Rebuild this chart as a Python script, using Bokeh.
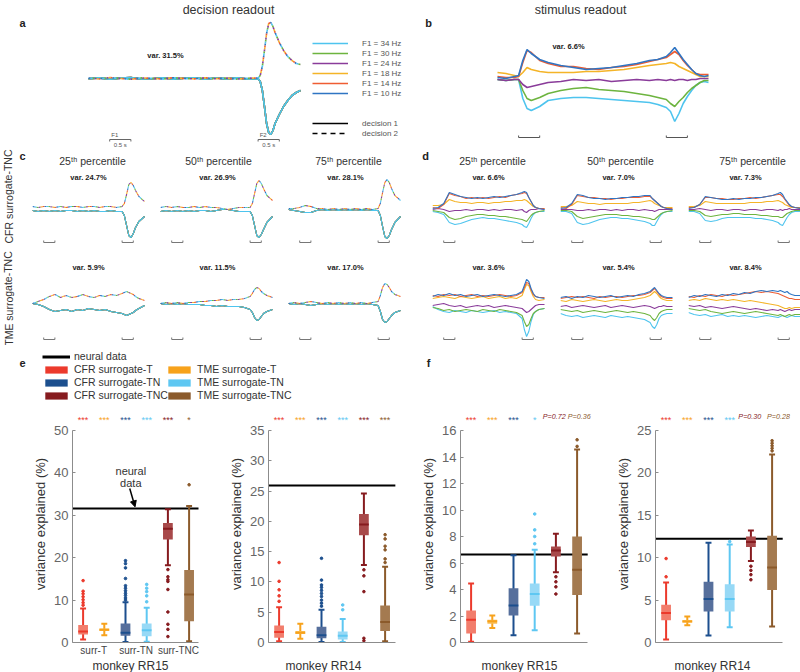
from bokeh.plotting import figure
from bokeh.layouts import row, column
from bokeh.models import Range1d, Legend, LegendItem, FixedTicker, Arrow, NormalHead
from bokeh.core.properties import value
from bokeh.embed import file_html
from bokeh.resources import INLINE

FONT = "Liberation Sans"
TXT = "#333333"

# ------------------------------------------------------------------ data
F1_LABELS = ["F1 = 34 Hz", "F1 = 30 Hz", "F1 = 24 Hz", "F1 = 18 Hz", "F1 = 14 Hz", "F1 = 10 Hz"]
F1_COLORS = ["#4ec4ee", "#6db43f", "#8a3c9a", "#f4b428", "#ef5d33", "#2f75c3"]
STIM_ON = [0.0, 3.5]
STIM_OFF = [0.5, 4.0]
STIM_NAMES = ["F1", "F2"]

# panel a (decision readout), time in s
T_A = [-0.5, -0.25, 0.0, 0.25, 0.5, 0.75, 1.0, 1.25, 1.5, 1.75, 2.0, 2.25, 2.5, 2.75, 3.0, 3.25, 3.5,
       3.55, 3.6, 3.65, 3.7, 3.75, 3.8, 3.85, 3.9, 4.0, 4.1, 4.2, 4.3, 4.4, 4.5]
A_DEC1 = [-0.3, 0.6, -0.8, 0.4, 0.9, -0.5, -0.2, 0.7, -0.6, 0.3, 0.8, -0.7, 0.5, -0.4, 0.6, -0.5, -0.3,
          -3, -12, -28, -45, -54, -56, -52, -45, -36, -28, -22, -17, -14, -12]
A_DEC2 = [0.5, -0.5, 1.0, 0.0, -0.8, 0.6, 0.2, -0.6, 0.8, 0.0, -0.4, 0.7, -0.3, 0.4, -0.6, 0.3, 0.5,
          3, 12, 28, 45, 55, 56, 52, 46, 36, 28, 22, 18, 15, 14]
A_VAR = "var. 31.5%"

# panel b (stimulus readout)
T_B = [-0.5, -0.3, -0.1, 0.0, 0.1, 0.2, 0.3, 0.5, 0.7, 1.0, 1.3, 1.6, 1.9, 2.2, 2.5, 2.8, 3.1, 3.3, 3.5,
       3.6, 3.7, 3.8, 3.9, 4.0, 4.1, 4.2, 4.3, 4.4, 4.5]
B_34 = [-1, -2, -1, -1, -20, -30, -32, -28, -22, -20, -19, -19, -20, -21, -22, -23, -24, -26, -29, -33,
        -43, -35, -25, -18, -12, -7, -4, -3, -4]
B_30 = [-1, -2, -1, -1, -12, -20, -22, -19, -15, -12, -10, -9, -11, -12, -13, -15, -17, -19, -21, -25,
        -28, -23, -19, -14, -10, -7, -4, -2, -2]
B_24 = [-1, -2, -1, -1, -6, -9, -8, -6, -4, -3, -1, -2, -1, -3, -2, -1, -2, -1, -2, -1,
        -2, -1, -1, -2, -1, -1, 0, 0, 0]
B_18 = [6, 5, 3, 2, 6, 11, 9, 7, 6, 6, 6, 7, 7, 8, 9, 11, 13, 14, 15, 16, 15, 12, 10, 8, 6, 4, 2, 2, 2]
B_14 = [2, 1, 1, 2, 16, 28, 26, 18, 15, 12, 12, 10, 9, 11, 12, 14, 17, 19, 21, 24, 27, 24, 18, 13, 9, 5, 4, 4, 4]
B_10 = [1, 0, 2, 3, 18, 29, 25, 19, 16, 13, 11, 9, 10, 11, 13, 15, 18, 19, 22, 26, 31, 25, 19, 14, 9, 5, 3, 2, 3]
B_TRACES = [B_34, B_30, B_24, B_18, B_14, B_10]
B_VAR = "var. 6.6%"

# panels c / d (percentile surrogates)
T_M = [-0.5, -0.25, 0.0, 0.25, 0.5, 0.75, 1.0, 1.25, 1.5, 1.75, 2.0, 2.25, 2.5, 2.75, 3.0, 3.25, 3.5,
       3.6, 3.7, 3.8, 3.9, 4.0, 4.1, 4.25, 4.5]
PCT_TITLES = ["25\u1d57\u02b0 percentile", "50\u1d57\u02b0 percentile", "75\u1d57\u02b0 percentile"]

C_TOP_UP = [[3, 2, 3, 3, 2, 3, 2, 3, 3, 2, 3, 3, 2, 3, 3, 2, 3, 6, 15, 25, 27, 24, 19, 13, 8],
            [2, 3, 2, 3, 2, 2, 3, 2, 3, 2, 2, 1, 0, 1, 2, 2, 2, 6, 16, 26, 29, 26, 21, 14, 9],
            [1, 1, 2, 4, 3, 1, 1, 0, 1, 0, 1, 0, 1, 0, 1, 0, 1, 6, 17, 27, 30, 27, 21, 14, 9]]
C_TOP_DN = [[-1, -2, -1, -2, -1, -2, -1, -1, -2, -1, -2, -1, -2, -2, -1, -2, -2, -6, -16, -26, -28, -24, -18, -12, -7],
            [-2, -1, -2, -1, -2, -1, -2, -1, -1, -2, -1, 0, 0, -1, -2, -2, -2, -6, -16, -26, -28, -25, -20, -13, -7],
            [0, -1, -2, -3, -3, -1, 0, -1, 0, -1, 0, -1, 0, -1, 0, -1, -1, -6, -17, -27, -29, -26, -20, -13, -7]]
C_BOT_UP = [[0, 2, 4, 7, 9, 6, 8, 6, 7, 9, 7, 6, 8, 7, 9, 8, 10, 11, 12, 11, 10, 9, 7, 5, 3],
            [0, 1, 0, 1, 0, 1, 1, 2, 2, 3, 3, 4, 3, 4, 4, 5, 7, 10, 14, 16, 15, 12, 10, 8, 6],
            [0, 1, 0, 1, 2, 1, 0, 1, 0, 1, 0, 1, 0, 1, 0, 1, 2, 8, 16, 20, 19, 16, 12, 9, 7]]
C_BOT_DN = [[0, -1, -3, -6, -8, -7, -6, -8, -6, -7, -5, -6, -7, -6, -8, -9, -10, -11, -12, -11, -10, -9, -7, -5, -2],
            [0, -1, 0, -1, 0, -1, -1, -1, -2, -2, -3, -2, -3, -3, -3, -4, -6, -9, -14, -17, -16, -13, -10, -8, -6],
            [0, -1, 0, -1, -2, -1, 0, -1, 0, -1, 0, -1, 0, -1, 0, -1, -2, -8, -16, -19, -18, -15, -12, -9, -7]]
C_TOP_VAR = ["var. 24.7%", "var. 26.9%", "var. 28.1%"]
C_BOT_VAR = ["var. 5.9%", "var. 11.5%", "var. 17.0%"]

# d traces, order F1 = 34, 30, 24, 18, 14, 10
D_TOP = [
    [[-2, -3, -5, -13, -15, -14, -12, -10, -9, -8, -9, -9, -10, -11, -12, -13, -15, -17, -18, -14, -9, -5, -3, -2, -2],
     [-1, -2, -3, -8, -10, -9, -7, -6, -5, -5, -6, -6, -7, -7, -8, -9, -10, -11, -12, -9, -6, -4, -3, -2, -1],
     [0, 1, 0, -2, -1, -1, 0, -1, 0, 0, -1, 0, -1, 0, 0, -1, 0, -2, -3, -1, 0, 0, 0, 1, 0],
     [4, 4, 5, 10, 8, 7, 7, 6, 7, 7, 6, 7, 7, 8, 8, 9, 9, 10, 9, 7, 5, 3, 2, 1, 1],
     [2, 1, 5, 16, 14, 13, 11, 12, 11, 12, 11, 12, 13, 12, 14, 15, 16, 17, 16, 12, 8, 4, 2, 1, 1],
     [1, 2, 6, 17, 15, 13, 12, 11, 12, 11, 12, 13, 12, 13, 14, 15, 17, 18, 17, 12, 8, 4, 2, 1, 0]],
    [[-2, -2, -4, -13, -15, -14, -12, -10, -9, -8, -8, -9, -9, -10, -11, -12, -14, -16, -16, -12, -8, -5, -3, -2, -2],
     [-1, -1, -2, -7, -9, -8, -7, -6, -5, -5, -5, -6, -6, -7, -7, -8, -9, -10, -10, -8, -6, -4, -3, -2, -1],
     [0, 0, 0, -1, -1, 0, -1, 0, 0, -1, 0, -1, 0, 0, -1, 0, -1, -1, -2, -1, 0, 0, 0, 0, 0],
     [3, 3, 4, 8, 7, 6, 6, 5, 6, 6, 6, 6, 6, 7, 7, 8, 9, 8, 6, 5, 4, 3, 2, 2, 2],
     [2, 1, 5, 14, 13, 12, 12, 11, 11, 10, 11, 11, 12, 12, 12, 13, 13, 11, 9, 7, 5, 3, 2, 1, 1],
     [1, 2, 6, 15, 14, 12, 11, 11, 10, 11, 11, 12, 12, 13, 13, 14, 14, 11, 9, 7, 5, 3, 2, 1, 0]],
    [[-2, -2, -4, -11, -12, -11, -9, -8, -8, -8, -8, -8, -9, -9, -10, -11, -13, -15, -16, -12, -8, -5, -3, -2, -2],
     [-1, -1, -2, -6, -7, -6, -5, -5, -4, -4, -5, -5, -5, -6, -6, -7, -7, -8, -8, -6, -4, -3, -2, -1, -1],
     [0, 0, 1, 0, -1, 0, 0, -1, 0, 0, -1, 0, 0, -1, 0, 0, -1, 0, -1, 0, 0, 1, 0, 0, 0],
     [3, 3, 4, 8, 7, 6, 6, 6, 6, 6, 6, 7, 7, 7, 8, 8, 9, 8, 7, 5, 4, 3, 2, 2, 2],
     [2, 2, 5, 12, 12, 11, 11, 10, 10, 11, 11, 12, 11, 12, 13, 14, 15, 15, 13, 10, 7, 4, 3, 2, 1],
     [1, 2, 5, 13, 12, 11, 10, 10, 11, 10, 11, 11, 12, 12, 13, 14, 16, 17, 15, 11, 8, 5, 3, 2, 1]],
]
D_BOT = [
    [[-3, -6, -8, -9, -7, -8, -9, -7, -8, -9, -8, -7, -9, -8, -9, -10, -15, -26, -33, -28, -18, -11, -8, -6, -5],
     [-4, -5, -7, -6, -8, -7, -6, -7, -8, -6, -7, -8, -6, -7, -8, -9, -12, -18, -23, -21, -15, -10, -8, -6, -5],
     [-2, -1, 0, -2, -3, -2, -4, -3, -2, -3, -2, -4, -3, -2, -3, -4, -5, -7, -9, -8, -6, -4, -2, -1, -1],
     [5, 6, 7, 6, 5, 7, 6, 5, 6, 7, 5, 6, 7, 5, 6, 5, 8, 14, 19, 18, 12, 7, 4, 3, 4],
     [8, 7, 9, 8, 9, 7, 8, 9, 7, 8, 7, 8, 9, 8, 7, 8, 11, 16, 21, 20, 14, 9, 7, 6, 6],
     [7, 9, 8, 10, 8, 9, 7, 8, 9, 7, 8, 9, 8, 7, 8, 9, 12, 18, 24, 22, 15, 10, 7, 6, 5]],
    [[-10, -12, -13, -12, -14, -13, -12, -13, -14, -12, -13, -14, -13, -14, -15, -16, -19, -23, -25, -21, -15, -12, -11, -10, -10],
     [-6, -7, -8, -7, -9, -8, -7, -8, -9, -8, -7, -8, -9, -8, -9, -10, -12, -15, -17, -14, -10, -8, -7, -6, -6],
     [-3, -2, -4, -3, -2, -3, -4, -3, -2, -4, -3, -2, -3, -4, -3, -2, -3, -4, -5, -4, -3, -3, -2, -3, -3],
     [3, 2, 4, 3, 2, 3, 4, 3, 2, 3, 4, 3, 3, 4, 5, 6, 8, 10, 12, 10, 7, 5, 4, 3, 3],
     [5, 6, 7, 6, 7, 6, 5, 7, 6, 7, 7, 6, 7, 8, 8, 9, 11, 13, 15, 12, 9, 7, 6, 5, 5],
     [6, 7, 5, 7, 6, 8, 7, 6, 7, 8, 6, 7, 8, 7, 9, 10, 12, 14, 16, 13, 10, 8, 7, 6, 6]],
    [[-9, -11, -12, -11, -13, -12, -11, -13, -12, -13, -12, -13, -14, -13, -12, -13, -14, -13, -12, -13, -14, -13, -12, -13, -13],
     [-5, -6, -7, -6, -8, -9, -10, -9, -8, -9, -10, -9, -8, -9, -10, -11, -12, -11, -12, -13, -12, -11, -12, -11, -11],
     [-2, -3, -2, -4, -3, -4, -5, -4, -3, -4, -5, -6, -5, -6, -7, -6, -7, -6, -7, -8, -7, -6, -7, -6, -6],
     [3, 4, 3, 5, 4, 3, 4, 3, 4, 3, 2, 3, 2, 1, 0, -1, -2, -3, -4, -5, -5, -4, -5, -4, -4],
     [7, 6, 8, 7, 9, 8, 7, 9, 8, 9, 10, 11, 12, 11, 12, 11, 10, 9, 8, 7, 6, 5, 5, 4, 4],
     [6, 8, 7, 9, 8, 7, 9, 8, 10, 9, 11, 10, 12, 13, 12, 13, 12, 13, 12, 11, 12, 10, 9, 8, 8]],
]
D_TOP_VAR = ["var. 6.6%", "var. 7.0%", "var. 7.3%"]
D_BOT_VAR = ["var. 3.6%", "var. 5.4%", "var. 8.4%"]

# panels e / f (variance explained, %)
GROUPS = ["CFR surrogate-T", "TME surrogate-T", "CFR surrogate-TN", "TME surrogate-TN",
          "CFR surrogate-TNC", "TME surrogate-TNC"]
BOX_COLORS = ["#ec3a2c", "#f7a21b", "#1c4f8e", "#5ec7f2", "#861b1f", "#8b5a2b"]
BOX_FILLS = ["#f27d6c", "#f9bc56", "#566f9c", "#97d9f6", "#a8494a", "#a47a50"]
X_TICK_LABELS = {1.5: "surr-T", 3.5: "surr-TN", 5.5: "surr-TNC"}
MONKEYS = ["monkey RR15", "monkey RR14", "monkey RR15", "monkey RR14"]

E1_LOW = [0.7, 1.7, 0.1, 0.2, 18.2, 0.3]
E1_Q1 = [1.9, 2.7, 1.6, 1.5, 24.3, 5.0]
E1_MED = [2.6, 3.0, 2.3, 2.9, 26.8, 11.3]
E1_Q3 = [4.1, 3.3, 4.5, 4.5, 28.2, 17.1]
E1_HIGH = [8.0, 4.4, 9.5, 8.2, 31.4, 32.2]
E1_OUT = [[8.8, 9.4, 10.1, 10.8, 11.5, 12.1, 14.6],
          [],
          [10.0, 10.5, 11.1, 11.6, 12.2, 12.8, 13.4, 15.1, 17.6, 18.6, 19.3],
          [9.6, 11.0, 12.0, 12.8, 13.7],
          [1.4, 3.1, 4.3, 7.2, 12.5, 14.4, 14.8, 15.5, 17.2],
          [37.2]]
E1_NEURAL = 31.6
E1_STARS = ["***", "***", "***", "***", "***", "*"]

E2_LOW = [0.2, 0.6, 0.1, 0.1, 12.8, 0.2]
E2_Q1 = [0.8, 1.4, 0.7, 0.5, 17.7, 1.9]
E2_MED = [1.75, 1.6, 1.2, 1.1, 19.5, 3.4]
E2_Q3 = [2.8, 1.9, 2.6, 1.8, 21.2, 6.1]
E2_HIGH = [5.8, 3.1, 5.4, 3.9, 24.6, 12.5]
E2_OUT = [[6.8, 7.7, 8.7, 10.1, 13.2],
          [],
          [6.0, 6.5, 7.0, 7.6, 8.1, 8.6, 9.1, 9.5, 10.3, 13.9],
          [5.4, 6.2],
          [0.3, 0.7, 8.4, 11.0, 12.0],
          [13.2, 13.8, 15.3, 15.9, 17.1, 17.8]]
E2_NEURAL = 25.9
E2_STARS = ["***", "***", "***", "***", "***", "***"]

F1P_LOW = [0.05, 1.1, 0.55, 0.92, 5.3, 0.67]
F1P_Q1 = [0.67, 1.42, 2.04, 2.77, 6.5, 3.59]
F1P_MED = [1.72, 1.6, 2.79, 3.66, 6.95, 5.5]
F1P_Q3 = [2.42, 1.72, 4.09, 4.46, 7.25, 8.0]
F1P_HIGH = [4.46, 2.04, 6.58, 7.0, 8.2, 14.56]
F1P_OUT = [[], [], [], [7.45, 8.0, 8.5, 9.7], [3.66, 4.2, 4.58, 4.96], [14.8, 15.3]]
F1P_NEURAL = 6.65
F1P_STARS = ["***", "***", "***", "*", "P=0.72", "P=0.36"]

F2P_LOW = [0.35, 2.02, 0.82, 1.79, 9.6, 1.9]
F2P_Q1 = [2.61, 2.35, 3.66, 3.66, 11.25, 6.2]
F2P_MED = [3.47, 2.49, 5.14, 5.14, 11.84, 8.84]
F2P_Q3 = [4.44, 2.65, 7.17, 6.86, 12.5, 12.6]
F2P_HIGH = [7.09, 3.07, 11.76, 11.57, 13.2, 22.16]
F2P_OUT = [[7.75, 9.9], [], [], [11.9], [7.4, 8.0, 8.5, 9.0], [22.6, 22.9, 23.2, 23.5, 23.8]]
F2P_NEURAL = 12.23
F2P_STARS = ["***", "***", "***", "***", "P=0.30", "P=0.28"]

# ------------------------------------------------------------------ helpers
def blank(w, h, xr, yr):
    p = figure(width=w, height=h, x_range=Range1d(*xr), y_range=Range1d(*yr),
               output_backend="svg", toolbar_location=None,
               x_axis_location=None, y_axis_location=None, min_border=0)
    p.grid.visible = False
    p.outline_line_color = None
    return p


def put(p, x, y, s, size, color=TXT, style="normal", align="center", angle=0.0):
    p.text(x=[x], y=[y], text=[s], text_font=value(FONT), text_font_size=f"{size}px",
           text_color=color, text_font_style=style, text_align=align, text_baseline="middle",
           angle=angle)


def stim_bars(p, ybar, tick, color="#666666"):
    p.segment(x0=STIM_ON, y0=[ybar] * 2, x1=STIM_OFF, y1=[ybar] * 2, line_color=color, line_width=1)
    p.segment(x0=STIM_ON, y0=[ybar] * 2, x1=STIM_ON, y1=[ybar - tick] * 2, line_color=color, line_width=1)
    p.segment(x0=STIM_OFF, y0=[ybar] * 2, x1=STIM_OFF, y1=[ybar - tick] * 2, line_color=color, line_width=1)


def decision_traces(p, t, dn, up, lw):
    solids = {}
    for i in reversed(range(6)):
        solids[i] = p.line(t, dn, line_color=F1_COLORS[i], line_width=lw)
    for k, i in enumerate(reversed(range(6))):
        p.line(t, up, line_color=F1_COLORS[i], line_width=lw, line_dash="2 10", line_dash_offset=2 * k)
    return solids


# ------------------------------------------------------------------ row 1: a, b
def a_x(X): return (X - 88) / 42.4 - 0.5
def a_y(Y): return 78 - Y
def b_x(X): return (X - 497) / 42.2 - 0.5
def b_y(Y): return 78 - Y

pa = blank(420, 147, (a_x(0), a_x(420)), (a_y(147), a_y(0)))
solid_a = decision_traces(pa, T_A, A_DEC1, A_DEC2, 1.6)
put(pa, a_x(228), a_y(9), "decision readout", 12.5)
put(pa, a_x(22), a_y(22), "a", 11, "#222222", "bold")
put(pa, a_x(165), a_y(55), A_VAR, 7.5, "#222222", "bold")
stim_bars(pa, a_y(139), 2)
for on, off, nm in zip(STIM_ON, STIM_OFF, STIM_NAMES):
    put(pa, on + 0.12, a_y(134), nm, 6, "#555555")
    put(pa, (on + off) / 2, a_y(144), "0.5 s", 6, "#555555")

# legend proxies (kept outside the visible frame)
PROXY_X = [a_x(-60), a_x(-50)]
PROXY_Y = [0, 0]
d1r = pa.line(PROXY_X, PROXY_Y, line_color="black", line_width=1.6)
d2r = pa.line(PROXY_X, PROXY_Y, line_color="black", line_width=1.6, line_dash="5 4")
emptyr = pa.line(PROXY_X, PROXY_Y, line_alpha=0)
items = [LegendItem(label=F1_LABELS[i], renderers=[solid_a[i]]) for i in range(6)]
items += [LegendItem(label=" ", renderers=[emptyr]), LegendItem(label="  ", renderers=[emptyr]),
          LegendItem(label="decision 1", renderers=[d1r]), LegendItem(label="decision 2", renderers=[d2r])]
leg_a = Legend(items=items, location=(312, 9), glyph_width=36, glyph_height=10, label_height=10,
               spacing=0, padding=0, margin=0, label_standoff=14, label_text_font=FONT,
               label_text_font_size="8px", label_text_color="#555555",
               border_line_alpha=0, background_fill_alpha=0)
pa.add_layout(leg_a)

pb = blank(380, 147, (b_x(420), b_x(800)), (b_y(147), b_y(0)))
for i, tr in enumerate(B_TRACES):
    pb.line(T_B, tr, line_color=F1_COLORS[i], line_width=1.6)
put(pb, b_x(580), b_y(9), "stimulus readout", 12.5)
put(pb, b_x(428), b_y(22), "b", 11, "#222222", "bold")
put(pb, b_x(568), b_y(46), B_VAR, 7.5, "#222222", "bold")
stim_bars(pb, b_y(137), -2, "#555555")

# ------------------------------------------------------------------ row 2: c, d
def m_x(X, left): return (X - left) / 22.4 - 0.5

TOP_YR = (209 - 250, 209 - 147)
BOT_YR = (303 - 345, 303 - 250)
C_LEFT, C_WID = [32, 160, 288], [128, 128, 132]
D_LEFT, D_WID = [432, 560, 688], [128, 128, 112]
C_TITLE_X, C_VAR_X = [92, 218, 348], [88, 217, 345]
D_TITLE_X, D_VAR_X = [492, 620, 752], [488, 618, 745]

strip_c = blank(32, 198, (0, 32), (345, 147))
put(strip_c, 22, 155, "c", 11, "#222222", "bold")
put(strip_c, 8, 196, "CFR surrogate-TNC", 10.5, TXT, angle=1.5708)
put(strip_c, 8, 298, "TME surrogate-TNC", 10.5, TXT, angle=1.5708)
strip_d = blank(12, 198, (420, 432), (345, 147))
put(strip_d, 425, 155, "d", 11, "#222222", "bold")

c_cols, d_cols = [], []
for k in range(3):
    L, W = C_LEFT[k], C_WID[k]
    top = blank(W, 103, (m_x(L, L), m_x(L + W, L)), TOP_YR)
    decision_traces(top, T_M, C_TOP_DN[k], C_TOP_UP[k], 1.1)
    put(top, m_x(C_TITLE_X[k], L), 209 - 160, PCT_TITLES[k], 10.5)
    put(top, m_x(C_VAR_X[k], L), 209 - 177, C_TOP_VAR[k], 7.5, "#222222", "bold")
    stim_bars(top, 209 - 242, -2, "#777777")
    bot = blank(W, 95, (m_x(L, L), m_x(L + W, L)), BOT_YR)
    decision_traces(bot, T_M, C_BOT_DN[k], C_BOT_UP[k], 1.1)
    put(bot, m_x(C_VAR_X[k], L), 303 - 267, C_BOT_VAR[k], 7.5, "#222222", "bold")
    stim_bars(bot, 303 - 339, -2, "#777777")
    c_cols.append(column(top, bot))

    L, W = D_LEFT[k], D_WID[k]
    top = blank(W, 103, (m_x(L, L), m_x(L + W, L)), TOP_YR)
    for i in range(6):
        top.line(T_M, D_TOP[k][i], line_color=F1_COLORS[i], line_width=1.1)
    put(top, m_x(D_TITLE_X[k], L), 209 - 160, PCT_TITLES[k], 10.5)
    put(top, m_x(D_VAR_X[k], L), 209 - 177, D_TOP_VAR[k], 7.5, "#222222", "bold")
    stim_bars(top, 209 - 242, -2, "#777777")
    bot = blank(W, 95, (m_x(L, L), m_x(L + W, L)), BOT_YR)
    for i in range(6):
        bot.line(T_M, D_BOT[k][i], line_color=F1_COLORS[i], line_width=1.1)
    put(bot, m_x(D_VAR_X[k], L), 303 - 267, D_BOT_VAR[k], 7.5, "#222222", "bold")
    stim_bars(bot, 303 - 339, -2, "#777777")
    d_cols.append(column(top, bot))

# ------------------------------------------------------------------ row 3: e, f
strip_e = blank(800, 60, (0, 800), (405, 345))
put(strip_e, 22, 362, "e", 11, "#222222", "bold")
put(strip_e, 428, 362, "f", 11, "#222222", "bold")
nr = strip_e.line([-60, -50], [360, 360], line_color="black", line_width=3)
sw = [strip_e.quad(left=[-60], right=[-50], top=[360], bottom=[365], fill_color=c, line_color=None)
      for c in BOX_COLORS]
common = dict(glyph_width=28, glyph_height=9, label_height=9, spacing=1, padding=0, margin=0,
              label_standoff=4, label_text_font=FONT, label_text_font_size="10.5px",
              label_text_color=TXT, border_line_alpha=0, background_fill_alpha=0)
leg1 = Legend(items=[LegendItem(label="neural data", renderers=[nr])] +
              [LegendItem(label=GROUPS[i], renderers=[sw[i]]) for i in (0, 2, 4)],
              location=(42, 4), **common)
leg2 = Legend(items=[LegendItem(label=GROUPS[i], renderers=[sw[i]]) for i in (1, 3, 5)],
              location=(165, 4), **common)
strip_e.add_layout(leg1)
strip_e.add_layout(leg2)

BOX_H, BOT_B = 253, 16
FRAME_H = BOX_H - BOT_B          # 237 px: frame from y=405 to y=642
TICK_SPAN = 212                  # px from zero line up to the top tick
STAR_OFF = 223                   # px above zero line for the significance row
PX_X = 21.2                      # px per box slot


def box_panel(lb, fw, rb, top_tick, step, low, q1, med, q3, high, outs, neural, stars, show_x,
              p_shift=(0.0, 0.0)):
    ymax = top_tick * FRAME_H / TICK_SPAN
    p = figure(width=lb + fw + rb, height=BOX_H, x_range=Range1d(0.5, 0.5 + fw / PX_X),
               y_range=Range1d(0, ymax), output_backend="svg", toolbar_location=None,
               min_border_left=lb, min_border_right=rb, min_border_top=0, min_border_bottom=BOT_B)
    p.grid.visible = False
    p.outline_line_color = None
    ya = p.yaxis[0]
    ya.ticker = FixedTicker(ticks=list(range(0, top_tick + 1, step)))
    ya.bounds = (0, top_tick)
    ya.axis_line_color = "#8c8c8c"
    ya.major_tick_line_color = "#8c8c8c"
    ya.major_tick_in, ya.major_tick_out = 3, 0
    ya.minor_tick_line_color = None
    ya.minor_tick_in, ya.minor_tick_out = 0, 0
    ya.major_label_text_font = FONT
    ya.major_label_text_font_size = "13px"
    ya.major_label_text_color = "#666666"
    ya.major_label_standoff = 4
    ya.axis_label = "variance explained (%)"
    ya.axis_label_text_font = FONT
    ya.axis_label_text_font_size = "13px"
    ya.axis_label_text_font_style = "normal"
    ya.axis_label_text_color = TXT
    ya.axis_label_standoff = 3
    xa = p.xaxis[0]
    xa.ticker = FixedTicker(ticks=[1.5, 3.5, 5.5])
    xa.bounds = (0.5, 6.5)
    xa.major_label_overrides = X_TICK_LABELS
    xa.major_tick_line_color = None
    xa.minor_tick_line_color = None
    xa.major_tick_in, xa.major_tick_out = 0, 0
    xa.minor_tick_in, xa.minor_tick_out = 0, 0
    xa.axis_line_color = "#8c8c8c"
    xa.major_label_text_font = FONT
    xa.major_label_text_font_size = "10px"
    xa.major_label_text_color = "#444444"
    xa.major_label_text_alpha = 1.0 if show_x else 0.0
    xa.major_label_standoff = 2

    xs = [1, 2, 3, 4, 5, 6]
    p.segment(x0=[0.5], y0=[neural], x1=[6.5], y1=[neural], line_color="black", line_width=2)
    p.segment(x0=xs, y0=low, x1=xs, y1=high, line_color=BOX_COLORS, line_width=2)
    cl = [x - 0.14 for x in xs]
    cr = [x + 0.14 for x in xs]
    p.segment(x0=cl, y0=low, x1=cr, y1=low, line_color=BOX_COLORS, line_width=2)
    p.segment(x0=cl, y0=high, x1=cr, y1=high, line_color=BOX_COLORS, line_width=2)
    p.vbar(x=xs, width=0.46, bottom=q1, top=q3, fill_color=BOX_FILLS, line_color=None)
    p.segment(x0=[x - 0.23 for x in xs], y0=med, x1=[x + 0.23 for x in xs], y1=med,
              line_color=BOX_COLORS, line_width=2)
    ox, oy, oc = [], [], []
    for i, o in enumerate(outs):
        ox += [xs[i]] * len(o)
        oy += o
        oc += [BOX_COLORS[i]] * len(o)
    p.scatter(ox, oy, size=2.6, color=oc, marker="circle")

    sy = top_tick * STAR_OFF / TICK_SPAN
    si = [i for i, s in enumerate(stars) if not s.startswith("P")]
    pi = [i for i, s in enumerate(stars) if s.startswith("P")]
    p.text(x=[xs[i] for i in si], y=[sy] * len(si), text=[stars[i] for i in si],
           text_color=[BOX_COLORS[i] for i in si], text_font=value(FONT), text_font_size="9px",
           text_align="center", text_baseline="middle")
    if pi:
        p.text(x=[xs[i] + p_shift[j] for j, i in enumerate(pi)],
               y=[top_tick * (STAR_OFF + 3) / TICK_SPAN] * len(pi), text=[stars[i] for i in pi],
               text_color=[BOX_COLORS[i] for i in pi], text_font=value(FONT),
               text_font_size="7.2px", text_font_style="italic",
               text_align="center", text_baseline="middle")
    return p


e1 = box_panel(72, 126, 2, 50, 10, E1_LOW, E1_Q1, E1_MED, E1_Q3, E1_HIGH, E1_OUT, E1_NEURAL,
               E1_STARS, True)
ppu_e1 = TICK_SPAN / 50
put(e1, 3.25, E1_NEURAL + 38 / ppu_e1, "neural", 11)
put(e1, 3.25, E1_NEURAL + 26 / ppu_e1, "data", 11)
e1.add_layout(Arrow(end=NormalHead(size=6, fill_color="black", line_color="black"),
                    x_start=3.2, y_start=E1_NEURAL + 20 / ppu_e1, x_end=3.45, y_end=E1_NEURAL + 0.4,
                    line_width=1.5, line_color="black"))
e2 = box_panel(68, 127, 2, 35, 5, E2_LOW, E2_Q1, E2_MED, E2_Q3, E2_HIGH, E2_OUT, E2_NEURAL,
               E2_STARS, False)
f1 = box_panel(63, 132, 0, 16, 2, F1P_LOW, F1P_Q1, F1P_MED, F1P_Q3, F1P_HIGH, F1P_OUT, F1P_NEURAL,
               F1P_STARS, False, p_shift=(-0.08, 0.1))
f2 = box_panel(63, 135, 10, 25, 5, F2P_LOW, F2P_Q1, F2P_MED, F2P_Q3, F2P_HIGH, F2P_OUT, F2P_NEURAL,
               F2P_STARS, False, p_shift=(-0.05, 0.3))

# x-axis titles (one per box panel)
strip_m = blank(800, 14, (0, 800), (672, 658))
for xm, name in zip([130, 323, 519, 712], MONKEYS):
    put(strip_m, xm, 665, name, 12, TXT)

layout = column(
    row(pa, pb),
    row(strip_c, *c_cols, strip_d, *d_cols),
    strip_e,
    row(e1, e2, f1, f2),
    strip_m,
)

open("out.html", "w").write(file_html(layout, INLINE))
